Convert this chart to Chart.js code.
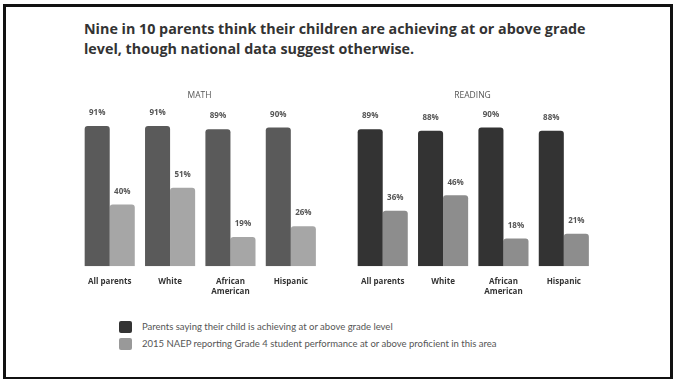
<!DOCTYPE html>
<html><head><meta charset="utf-8">
<script src="https://cdn.jsdelivr.net/npm/chart.js@4"></script>
<style>
html,body{margin:0;padding:0;background:#fff;width:673px;height:379px;overflow:hidden;font-family:Lato,"Open Sans",sans-serif;}
#frame{position:absolute;left:3px;top:4px;width:664px;height:370px;border:3px solid #111;}
#title{position:absolute;left:84px;top:19px;width:525px;font-family:"Open Sans",sans-serif;font-weight:700;font-size:14.3px;line-height:20px;color:#333;}
.cw{position:absolute;}
#legend{position:absolute;left:119px;top:318px;font-size:9.5px;color:#555;}
.li{display:flex;align-items:center;height:17px;}
.sw{width:13px;height:12px;border-radius:2px;margin-right:10px;}
</style></head><body>
<div id="frame"></div>
<div id="title">Nine in 10 parents think their children are achieving at or above grade level, though national data suggest otherwise.</div>
<div class="cw" style="left:78px;top:82px;width:243px;height:225px"><canvas id="math"></canvas></div>
<div class="cw" style="left:351px;top:82px;width:243px;height:225px"><canvas id="reading"></canvas></div>
<div id="legend"></div>
<script>
const categories = [["All parents"], ["White"], ["African", "American"], ["Hispanic"]];
const mathParents = [91, 91, 89, 90];
const mathNaep = [40, 51, 19, 26];
const readingParents = [89, 88, 90, 88];
const readingNaep = [36, 46, 18, 21];
const seriesNames = ["Parents saying their child is achieving at or above grade level",
  "2015 NAEP reporting Grade 4 student performance at or above proficient in this area"];

const valueLabels = {
  id: 'valueLabels',
  afterDatasetsDraw(chart) {
    const ctx = chart.ctx;
    ctx.save();
    ctx.font = 'bold 8px "Open Sans", sans-serif';
    ctx.fillStyle = '#555';
    ctx.textAlign = 'center';
    ctx.textBaseline = 'middle';
    chart.data.datasets.forEach((ds, i) => {
      chart.getDatasetMeta(i).data.forEach((bar, j) => {
        ctx.fillText(ds.data[j] + '%', bar.x, bar.y - 13);
      });
    });
    ctx.restore();
  }
};

function makeChart(id, title, a, b, ca, cb) {
  return new Chart(document.getElementById(id), {
    type: 'bar',
    data: {
      labels: categories,
      datasets: [
        { label: seriesNames[0], data: a, backgroundColor: ca, borderRadius: {topLeft: 3, topRight: 3}, borderSkipped: 'bottom' },
        { label: seriesNames[1], data: b, backgroundColor: cb, borderRadius: {topLeft: 3, topRight: 3}, borderSkipped: 'bottom' }
      ]
    },
    options: {
      responsive: true, maintainAspectRatio: false, animation: false,
      layout: { padding: { top: 0, bottom: 0, left: 0, right: 0 } },
      categoryPercentage: 0.83, barPercentage: 1.0,
      plugins: {
        legend: { display: false },
        tooltip: { enabled: false },
        title: { display: true, text: title, color: '#555', font: { family: '"Open Sans"', size: 8.5, weight: 'normal' }, padding: { top: 8, bottom: 12 } }
      },
      scales: {
        y: { display: false, min: 0, max: 100 },
        x: {
          grid: { display: false, drawTicks: false }, border: { display: false },
          ticks: { color: '#333', font: { family: '"Open Sans"', size: 8, weight: 'bold', lineHeight: 1.3 }, padding: 10, maxRotation: 0 }
        }
      }
    },
    plugins: [valueLabels]
  });
}
makeChart('math', 'MATH', mathParents, mathNaep, '#5a5a5a', '#a6a6a6');
makeChart('reading', 'READING', readingParents, readingNaep, '#333333', '#8d8d8d');

const lg = document.getElementById('legend');
[['#333', seriesNames[0]], ['#999', seriesNames[1]]].forEach(([c, t]) => {
  const d = document.createElement('div'); d.className = 'li';
  d.innerHTML = '<div class="sw" style="background:' + c + '"></div><span>' + t + '</span>';
  lg.appendChild(d);
});
</script>
</body></html>
